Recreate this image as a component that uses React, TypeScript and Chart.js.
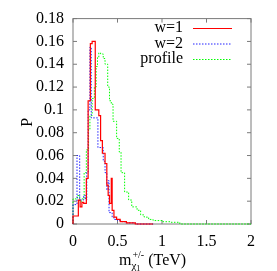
import React, { useEffect, useRef } from "react";
import { Chart, registerables } from "chart.js";

Chart.register(...registerables);

// ---- data (bin left edges, bin values) ----
const redEdges = [0.0, 0.06, 0.08, 0.1, 0.12, 0.15, 0.17, 0.195, 0.215, 0.25, 0.29, 0.31, 0.33, 0.36, 0.38, 0.395, 0.41, 0.43, 0.44, 0.46, 0.49, 0.53, 0.6, 0.7, 0.9];
const redValues = [0.0, 0.007, 0.021, 0.015, 0.019, 0.018, 0.04, 0.108, 0.158, 0.16, 0.1, 0.095, 0.073, 0.062, 0.053, 0.034, 0.025, 0.018, 0.04, 0.012, 0.006, 0.004, 0.002, 0.001, 0.0];

const blueEdges = [0.0, 0.045, 0.075, 0.12, 0.14, 0.155, 0.17, 0.19, 0.205, 0.28, 0.34, 0.36, 0.38, 0.395, 0.405, 0.44, 0.46, 0.5, 0.55, 0.6, 0.7, 0.9];
const blueValues = [0.0, 0.017, 0.06, 0.021, 0.025, 0.021, 0.045, 0.1, 0.155, 0.093, 0.067, 0.055, 0.045, 0.03, 0.038, 0.01, 0.006, 0.004, 0.003, 0.002, 0.001, 0.0];

const greenEdges = [0.0, 0.05, 0.075, 0.1, 0.125, 0.15, 0.175, 0.19, 0.215, 0.24, 0.26, 0.275, 0.29, 0.31, 0.34, 0.36, 0.39, 0.41, 0.43, 0.45, 0.49, 0.52, 0.54, 0.58, 0.625, 0.66, 0.72, 0.76, 0.8, 0.85, 0.9, 1.0, 1.1, 1.2, 1.52, 2.0];
const greenValues = [0.0, 0.022, 0.025, 0.02, 0.022, 0.045, 0.065, 0.083, 0.095, 0.11, 0.12, 0.138, 0.146, 0.15, 0.149, 0.145, 0.14, 0.12, 0.108, 0.105, 0.09, 0.075, 0.063, 0.045, 0.028, 0.021, 0.015, 0.012, 0.008, 0.006, 0.004, 0.003, 0.002, 0.0015, 0.0, 0.0];

const xTicks = [0, 0.5, 1, 1.5, 2];
const yTicks = [0, 0.02, 0.04, 0.06, 0.08, 0.1, 0.12, 0.14, 0.16, 0.18];
const legendLabels = ["w=1", "w=2", "profile"];

const SERIF = "'Liberation Serif', 'DejaVu Serif', serif";
const RED = "#ff0000";
const BLUE = "#2222ff";
const GREEN = "#00ff00";
const dashes = [[], [1.5, 1.5], [1.5, 1.5]];
const colors = [RED, BLUE, GREEN];

const toPts = (edges: number[], vals: number[]) => edges.map((e, i) => ({ x: e, y: vals[i] }));

const framePlugin = {
  id: "frame",
  beforeDatasetsDraw(chart: any) {
    const { ctx, chartArea: a, scales } = chart;
    ctx.save();
    ctx.strokeStyle = "#7a7a7a";
    ctx.lineWidth = 1;
    ctx.strokeRect(a.left, a.top, a.right - a.left, a.bottom - a.top);
    const t = 4;
    ctx.beginPath();
    xTicks.forEach((v) => {
      const x = scales.x.getPixelForValue(v);
      ctx.moveTo(x, a.bottom);
      ctx.lineTo(x, a.bottom - t);
      ctx.moveTo(x, a.top);
      ctx.lineTo(x, a.top + t);
    });
    yTicks.forEach((v) => {
      const y = scales.y.getPixelForValue(v);
      ctx.moveTo(a.left, y);
      ctx.lineTo(a.left + t, y);
      ctx.moveTo(a.right, y);
      ctx.lineTo(a.right - t, y);
    });
    ctx.stroke();
    ctx.restore();
  },
  afterDraw(chart: any) {
    const { ctx, chartArea: a } = chart;
    ctx.save();
    ctx.fillStyle = "#000";
    ctx.font = `16px ${SERIF}`;
    ctx.textAlign = "center";
    ctx.textBaseline = "middle";
    ctx.translate(28, (a.top + a.bottom) / 2 + 1);
    ctx.rotate(-Math.PI / 2);
    ctx.fillText("P", 0, 0);
    ctx.restore();

    ctx.save();
    ctx.fillStyle = "#000";
    ctx.textBaseline = "alphabetic";
    ctx.textAlign = "left";
    let x = 119;
    const base = 265;
    ctx.font = `16px ${SERIF}`;
    ctx.fillText("m", x, base);
    x += ctx.measureText("m").width;
    ctx.font = `11px ${SERIF}`;
    ctx.fillText("χ", x, base + 4);
    const chiW = ctx.measureText("χ").width;
    ctx.font = `8px ${SERIF}`;
    ctx.fillText("1", x + chiW, base + 6);
    ctx.font = `10px ${SERIF}`;
    ctx.fillText("+/-", x + 1, base - 7);
    x += Math.max(chiW + 5, ctx.measureText("+/-").width + 1) + 4;
    ctx.font = `16px ${SERIF}`;
    ctx.fillText("(TeV)", x, base);
    ctx.restore();

    ctx.save();
    ctx.font = `16px ${SERIF}`;
    ctx.textAlign = "right";
    ctx.textBaseline = "middle";
    const rows = [28, 43.5, 59];
    legendLabels.forEach((lab, i) => {
      ctx.fillStyle = "#000";
      ctx.fillText(lab, 183, rows[i]);
      ctx.strokeStyle = colors[i];
      ctx.lineWidth = 1;
      ctx.setLineDash(dashes[i]);
      ctx.beginPath();
      ctx.moveTo(193, rows[i] + 0.5);
      ctx.lineTo(232, rows[i] + 0.5);
      ctx.stroke();
    });
    ctx.restore();
  },
};

export default function App() {
  const ref = useRef<HTMLCanvasElement | null>(null);
  useEffect(() => {
    if (!ref.current) return;
    const fmt = (v: any) => String(Number(Number(v).toFixed(2)));
    const chart = new Chart(ref.current, {
      type: "line",
      data: {
        datasets: [
          { label: "w=1", data: toPts(redEdges, redValues), borderColor: RED, borderWidth: 1.2, stepped: "after", pointRadius: 0, fill: false },
          { label: "w=2", data: toPts(blueEdges, blueValues), borderColor: BLUE, borderWidth: 1, borderDash: dashes[1], stepped: "after", pointRadius: 0, fill: false },
          { label: "profile", data: toPts(greenEdges, greenValues), borderColor: GREEN, borderWidth: 1, borderDash: dashes[2], stepped: "after", pointRadius: 0, fill: false },
        ] as any,
      },
      options: {
        animation: false,
        responsive: false,
        devicePixelRatio: 1,
        clip: 2 as any,
        layout: { padding: { left: 0, top: 17, right: 26, bottom: 0 } },
        plugins: { legend: { display: false }, tooltip: { enabled: false } },
        scales: {
          x: {
            type: "linear",
            min: 0,
            max: 2,
            border: { display: false },
            grid: { display: false, drawTicks: false },
            afterBuildTicks: (s: any) => { s.ticks = xTicks.map((v) => ({ value: v })); },
            ticks: { color: "#000", font: { family: SERIF, size: 16 }, padding: 8, maxRotation: 0, callback: fmt },
            afterFit: (s: any) => { s.height = 47; },
          },
          y: {
            type: "linear",
            min: 0,
            max: 0.18,
            border: { display: false },
            grid: { display: false, drawTicks: false },
            afterBuildTicks: (s: any) => { s.ticks = yTicks.map((v) => ({ value: v })); },
            ticks: { color: "#000", font: { family: SERIF, size: 16 }, padding: 9, callback: fmt },
            afterFit: (s: any) => { s.width = 73; },
          },
        },
      },
      plugins: [framePlugin],
    });
    return () => chart.destroy();
  }, []);
  return (
    <canvas
      ref={ref}
      width={277}
      height={271}
      style={{ position: "absolute", left: 0, top: 0, width: 277, height: 271 }}
    />
  );
}
